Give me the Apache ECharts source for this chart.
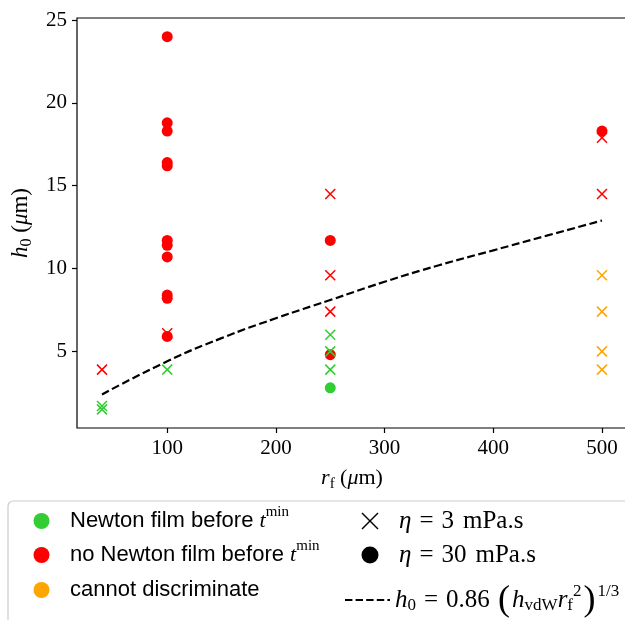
<!DOCTYPE html>
<html>
<head>
<meta charset="utf-8">
<script src="https://cdn.jsdelivr.net/npm/echarts@6/dist/echarts.min.js"></script>
<style>
html,body{margin:0;padding:0;background:#fff;}
#chart{width:625px;height:620px;}
</style>
</head>
<body>
<div id="chart"></div>
<script>
// ---- data (r_f in µm, h0 in µm) ----
var xTicks = [100, 200, 300, 400, 500];
var yTicks = [5, 10, 15, 20, 25];

// eta = 3 mPa.s (crosses)
var newtonX   = [[40, 1.5], [40, 1.7], [100, 3.9], [250, 6.0], [250, 5.0], [250, 3.9]];
var noNewtonX = [[40, 3.9], [100, 6.1], [250, 14.5], [250, 9.6], [250, 7.4], [500, 17.9], [500, 14.5]];
var cannotX   = [[500, 9.6], [500, 7.4], [500, 5.0], [500, 3.9]];
// eta = 30 mPa.s (circles)
var newtonO   = [[250, 2.8]];
var noNewtonO = [[100, 24.0], [100, 18.8], [100, 18.3], [100, 16.4], [100, 16.2], [100, 11.7],
                 [100, 11.4], [100, 10.7], [100, 8.4], [100, 8.2], [100, 5.9], [250, 11.7],
                 [250, 4.8], [500, 18.3]];
// dashed scaling curve
var curveR = [40, 100, 150, 200, 250, 300, 350, 400, 450, 500];
var curveH = [2.4, 4.4, 5.8, 7.0, 8.1, 9.2, 10.2, 11.1, 12.0, 12.9];

var GREEN = '#32cd32', RED = '#ff0000', ORANGE = '#ffa500';
var XPATH = 'path://M0,0L10,10M0,10L10,0';

function crossSeries(data, color) {
  return {
    type: 'scatter', data: data, symbol: XPATH, symbolSize: 10,
    itemStyle: {color: 'rgba(0,0,0,0)', borderColor: color, borderWidth: 1.5, opacity: 1},
    emphasis: {disabled: true}
  };
}
function dotSeries(data, color) {
  return {
    type: 'scatter', data: data, symbol: 'circle', symbolSize: 11,
    itemStyle: {color: color, opacity: 1},
    emphasis: {disabled: true}
  };
}

var SERIF = '"Liberation Serif", "DejaVu Serif", serif';
var SANS = '"Liberation Sans", "DejaVu Sans", sans-serif';
var mathRich = function (fs) {
  var s = Math.round(fs * 0.68);
  return {
    it: {fontFamily: SERIF, fontStyle: 'italic', fontSize: fs, color: '#000'},
    rm: {fontFamily: SERIF, fontSize: fs, color: '#000'},
    sp: {fontFamily: SERIF, fontSize: fs, color: '#000', padding: [0, 0, 0, 9]},
    sub: {fontFamily: SERIF, fontSize: s, color: '#000', padding: [12, 0, 0, 0]},
    sup: {fontFamily: SERIF, fontSize: s, color: '#000', padding: [0, 0, 17, 0]},
    big: {fontFamily: SERIF, fontSize: Math.round(fs * 1.45), color: '#000', padding: [2, 2, 0, 2]},
    sf: {fontFamily: SANS, fontSize: fs, color: '#000'},
    eq: {fontFamily: SERIF, fontSize: fs, color: '#000', padding: [0, 8, 0, 8]}
  };
};

var chart = echarts.init(document.getElementById('chart'), null, {renderer: 'canvas'});

var curveData = curveR.map(function (r, i) { return [r, curveH[i]]; });

var legendY = [521, 555, 590];
var option = {
  animation: false,
  backgroundColor: '#fff',
  grid: {left: 77, top: 18, width: 550, height: 410, show: true, borderColor: '#000', borderWidth: 1.2,
         backgroundColor: 'transparent', containLabel: false, outerBoundsMode: 'none'},
  xAxis: {
    type: 'value', min: 17, max: 523,
    axisLine: {show: false},
    splitLine: {show: false},
    axisTick: {show: true, length: 5, customValues: xTicks, lineStyle: {color: '#000', width: 1.2}},
    axisLabel: {customValues: xTicks, margin: 10, fontFamily: SERIF, fontSize: 21, color: '#000'},
    name: '{it|r}{sub|f}{rm| (}{it|μ}{rm|m)}',
    nameLocation: 'middle', nameGap: 37,
    nameTextStyle: {rich: mathRich(22)}
  },
  yAxis: {
    type: 'value', min: 0.375, max: 25.125,
    axisLine: {show: false},
    splitLine: {show: false},
    axisTick: {show: true, length: 5, customValues: yTicks, lineStyle: {color: '#000', width: 1.2}},
    axisLabel: {customValues: yTicks, margin: 10, fontFamily: SERIF, fontSize: 21, color: '#000'},
    name: '{it|h}{sub|0}{rm| (}{it|μ}{rm|m)}',
    nameLocation: 'middle', nameGap: 39,
    nameTextStyle: {rich: mathRich(23)}
  },
  series: [
    crossSeries(noNewtonX, RED),
    dotSeries(noNewtonO, RED),
    crossSeries(newtonX, GREEN),
    dotSeries(newtonO, GREEN),
    crossSeries(cannotX, ORANGE),
    {
      type: 'line', data: curveData, smooth: true, showSymbol: false, symbol: 'none',
      lineStyle: {color: '#000', width: 2.2, type: [8, 3.5]}, z: 5,
      emphasis: {disabled: true}
    }
  ],
  graphic: [
    {type: 'rect', shape: {x: 8, y: 501, width: 700, height: 200, r: 5},
     style: {fill: '#fff', stroke: '#cccccc', lineWidth: 1.2}, z: 10, silent: true},
    {type: 'circle', shape: {cx: 41.5, cy: legendY[0], r: 8}, style: {fill: GREEN}, z: 11},
    {type: 'circle', shape: {cx: 41.5, cy: legendY[1], r: 8}, style: {fill: RED}, z: 11},
    {type: 'circle', shape: {cx: 41.5, cy: legendY[2], r: 8}, style: {fill: ORANGE}, z: 11},
    {type: 'text', x: 70, y: legendY[0], z: 11,
     style: {text: '{sf|Newton film before }{it|t}{sup|min}', rich: mathRich(22), verticalAlign: 'middle'}},
    {type: 'text', x: 70, y: legendY[1], z: 11,
     style: {text: '{sf|no Newton film before }{it|t}{sup|min}', rich: mathRich(22), verticalAlign: 'middle'}},
    {type: 'text', x: 70, y: legendY[2], z: 11,
     style: {text: '{sf|cannot discriminate}', rich: mathRich(22), verticalAlign: 'middle'}},
    // column 2
    {type: 'line', shape: {x1: 362, y1: legendY[0] - 8, x2: 378, y2: legendY[0] + 8},
     style: {stroke: '#000', lineWidth: 1.5}, z: 11},
    {type: 'line', shape: {x1: 362, y1: legendY[0] + 8, x2: 378, y2: legendY[0] - 8},
     style: {stroke: '#000', lineWidth: 1.5}, z: 11},
    {type: 'circle', shape: {cx: 370, cy: legendY[1], r: 8.5}, style: {fill: '#000'}, z: 11},
    {type: 'line', shape: {x1: 345, y1: 600, x2: 390, y2: 600},
     style: {stroke: '#000', lineWidth: 2.2, lineDash: [7.4, 3.2]}, z: 11},
    {type: 'text', x: 399, y: legendY[0], z: 11,
     style: {text: '{it|η}{eq|=}{rm|3}{sp|mPa.s}', rich: mathRich(25), verticalAlign: 'middle'}},
    {type: 'text', x: 399, y: legendY[1], z: 11,
     style: {text: '{it|η}{eq|=}{rm|30}{sp|mPa.s}', rich: mathRich(25), verticalAlign: 'middle'}},
    {type: 'text', x: 395, y: 600, z: 11,
     style: {text: '{it|h}{sub|0}{eq|=}{rm|0.86 }{big|(}{it|h}{sub|vdW}{it|r}{sub|f}{sup|2}{big|)}{sup|1/3}',
             rich: mathRich(25), verticalAlign: 'middle'}}
  ]
};
chart.setOption(option);
</script>
</body>
</html>
